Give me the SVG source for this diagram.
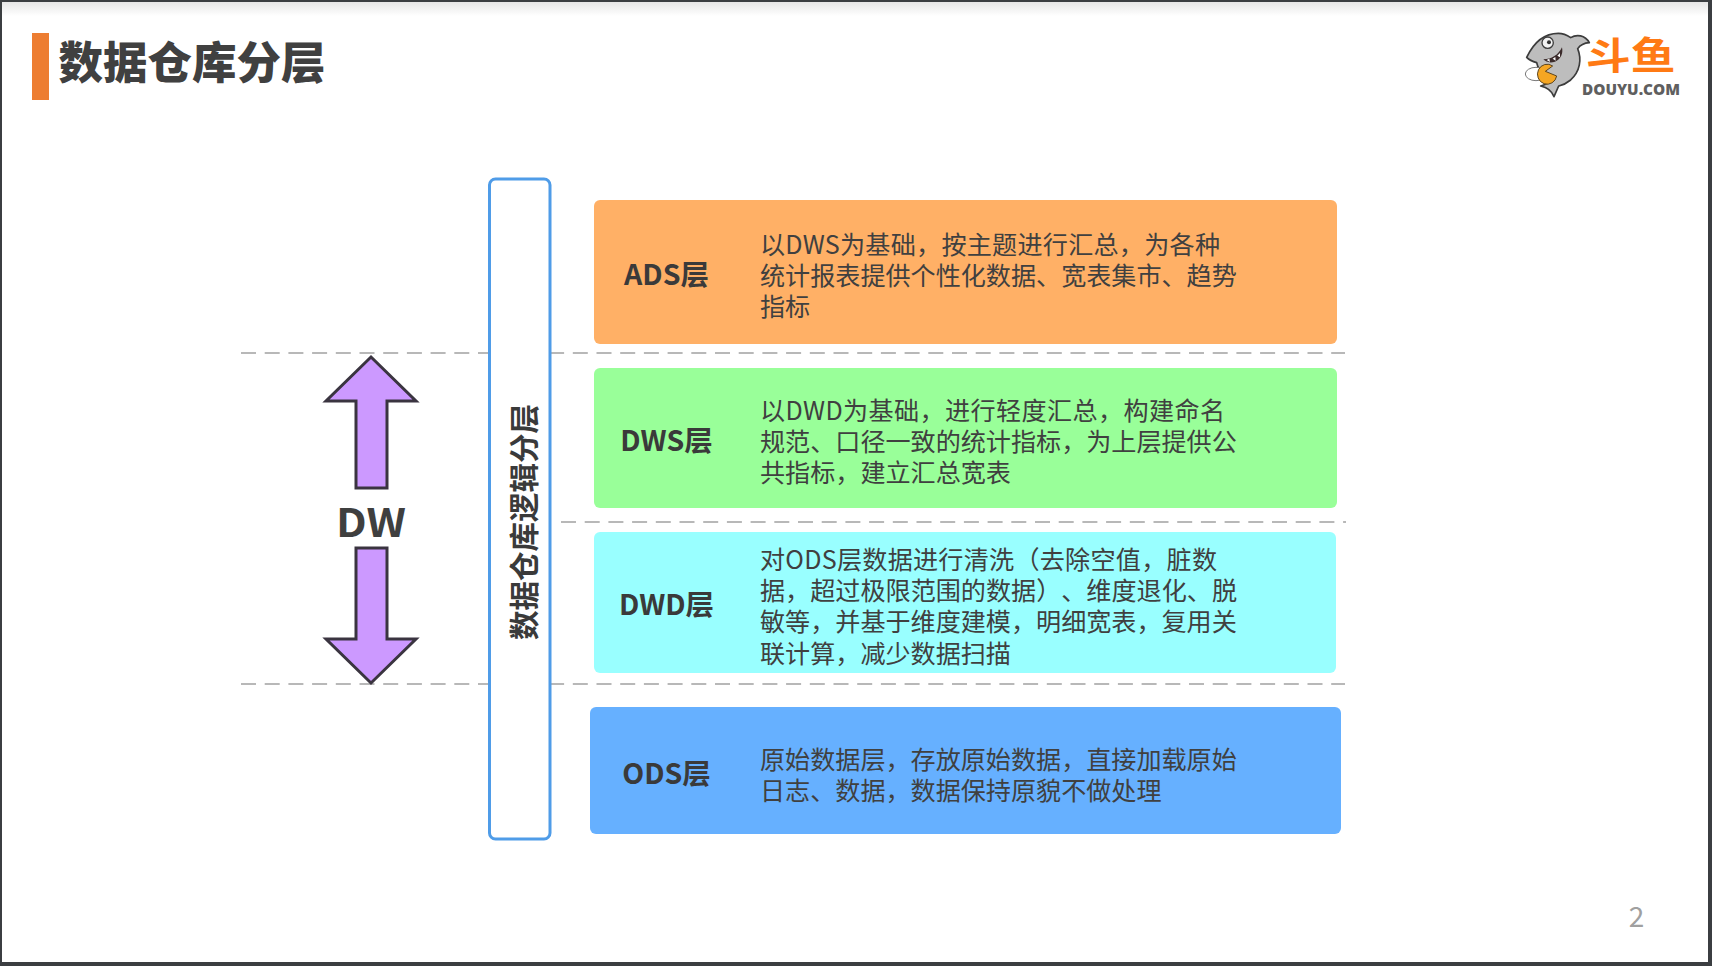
<svg xmlns="http://www.w3.org/2000/svg" width="1712" height="966" viewBox="0 0 1712 966">
<defs>
<linearGradient id="topShade" x1="0" y1="0" x2="0" y2="1"><stop offset="0" stop-color="#e6e6e6"/><stop offset="1" stop-color="#ffffff"/></linearGradient>
</defs>
<style>
text{font-family:"Noto Sans CJK SC","Noto Sans",sans-serif;text-spacing-trim:space-all}
.body{font-size:25.1px;fill:#404040}
.label{font-size:28.500px;font-weight:700;fill:#3a3a3a;text-anchor:middle}
.dash{stroke:#b8b8b8;stroke-width:2.2;stroke-dasharray:15 8.7;fill:none}
.arrow{fill:#cc99ff;stroke:#3a3440;stroke-width:3;stroke-linejoin:miter}
</style>
<rect width="1712" height="966" fill="#ffffff"/>
<rect x="0" y="2" width="1712" height="14" fill="url(#topShade)"/>
<g id="frame" fill="#3b3e41">
<rect x="0" y="0" width="1712" height="2"/>
<rect x="0" y="0" width="2" height="966"/>
<rect x="1708" y="0" width="4" height="966"/>
<rect x="0" y="962" width="1712" height="4"/>
</g>
<g id="title">
<rect x="32" y="33" width="17" height="67" fill="#ed7d31"/>
<text x="58.500" y="79" font-size="44.500" font-weight="900" fill="#404040">数据仓库分层</text>
</g>
<g id="logo">
<g transform="translate(1480 0) scale(.3333)">
<path d="M140 172C160 130 190 100 235 100C250 100 262 106 272 113C290 102 315 105 328 128C314 129 300 136 293 146C306 178 300 215 272 240C255 254 245 256 236 258L222 290C216 274 205 263 182 258C195 254 207 250 212 244C190 225 172 205 170 188C160 185 148 180 140 172Z" fill="#bdbdbd" stroke="#3c3c3c" stroke-width="5" stroke-linejoin="round"/>
<ellipse cx="168" cy="222" rx="32" ry="20" fill="#fff" stroke="#777" stroke-width="3"/>
<path d="M190 178C215 178 235 165 246 142C250 160 243 178 225 185C210 190 198 186 190 178Z" fill="#3a2a2a"/>
<path d="M200 180l8 -4l2 10zM218 176l8 -5l1 11zM232 167l8 -8l0 13z" fill="#fff"/>
<circle cx="203" cy="128" r="17" fill="#f2f2f2" stroke="#3c3c3c" stroke-width="4"/>
<circle cx="207" cy="127" r="6" fill="#333"/>
<path d="M230 228A29 30 0 1 1 218 198L196 214Z" fill="#f5a623" stroke="#5c4520" stroke-width="3"/>
</g>
<text transform="translate(1586 68.500) scale(1.02 .86)" font-size="44" font-weight="700" fill="#ff7a14">斗鱼</text>
<text x="1582" y="95" font-size="16.5" font-weight="800" fill="#5f5f5f" textLength="98" lengthAdjust="spacingAndGlyphs" style="font-family:'Open Sans',sans-serif">DOUYU.COM</text>
</g>
<g id="connectors">
<line class="dash" x1="241" y1="353" x2="1345" y2="353"/>
<line class="dash" x1="561" y1="522" x2="1346" y2="522"/>
<line class="dash" x1="241" y1="684" x2="1345" y2="684"/>
</g>
<g id="dw">
<path class="arrow" d="M371 357L416 401H387V488H356V401H326Z"/>
<path class="arrow" d="M356 548H387V639H416L371 683L326 639H356Z"/>
<text x="371" y="537" font-size="39" font-weight="700" fill="#3f3f3f" text-anchor="middle" textLength="70" lengthAdjust="spacingAndGlyphs">DW</text>
</g>
<g id="logic">
<rect x="489.5" y="179" width="60.500" height="660" rx="6" fill="#fff" stroke="#4f9ce8" stroke-width="3"/>
<text transform="translate(535 522) rotate(-90)" font-size="29.500" font-weight="700" fill="#3a3a3a" text-anchor="middle">数据仓库逻辑分层</text>
</g>
<g id="ads">
<rect x="594" y="200" width="743" height="144" rx="6" fill="#ffb066"/>
<text class="label" x="666.500" y="285">ADS层</text>
<text class="body" x="760" y="254" textLength="460">以DWS为基础&#xFF0C;按主题进行汇总&#xFF0C;为各种</text>
<text class="body" x="760" y="285">统计报表提供个性化数据&#x3001;宽表集市&#x3001;趋势</text>
<text class="body" x="760" y="316">指标</text>
</g>
<g id="dws">
<rect x="594" y="368" width="743" height="140" rx="6" fill="#99ff99"/>
<text class="label" x="666.500" y="451">DWS层</text>
<text class="body" x="760" y="420" textLength="465">以DWD为基础&#xFF0C;进行轻度汇总&#xFF0C;构建命名</text>
<text class="body" x="760" y="451">规范&#x3001;口径一致的统计指标&#xFF0C;为上层提供公</text>
<text class="body" x="760" y="482">共指标&#xFF0C;建立汇总宽表</text>
</g>
<g id="dwd">
<rect x="594" y="532" width="742" height="141" rx="6" fill="#99ffff"/>
<text class="label" x="666.500" y="615">DWD层</text>
<text class="body" x="760" y="569" textLength="457">对ODS层数据进行清洗&#xFF08;去除空值&#xFF0C;脏数</text>
<text class="body" x="760" y="600" textLength="477">据&#xFF0C;超过极限范围的数据&#xFF09;&#x3001;维度退化&#x3001;脱</text>
<text class="body" x="760" y="631">敏等&#xFF0C;并基于维度建模&#xFF0C;明细宽表&#xFF0C;复用关</text>
<text class="body" x="760" y="663">联计算&#xFF0C;减少数据扫描</text>
</g>
<g id="ods">
<rect x="590" y="707" width="751" height="127" rx="6" fill="#66b0ff"/>
<text class="label" x="666.500" y="784">ODS层</text>
<text class="body" x="760" y="769">原始数据层&#xFF0C;存放原始数据&#xFF0C;直接加载原始</text>
<text class="body" x="760" y="800">日志&#x3001;数据&#xFF0C;数据保持原貌不做处理</text>
</g>
<g id="page">
<text x="1636.500" y="927" font-size="28" fill="#a0a0a0" text-anchor="middle">2</text>
</g>
</svg>
